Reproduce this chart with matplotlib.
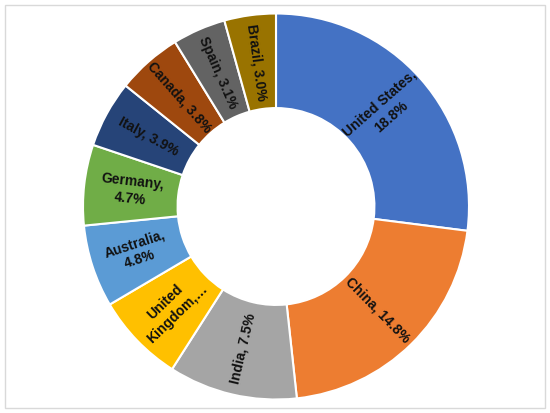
import numpy as np
import matplotlib.pyplot as plt
from matplotlib.patches import Rectangle

# datos (porcentajes del grafico)
paises = ['United States', 'China', 'India', 'United Kingdom', 'Australia',
          'Germany', 'Italy', 'Canada', 'Spain', 'Brazil']
valores = [18.8, 14.8, 7.5, 5.2, 4.8, 4.7, 3.9, 3.8, 3.1, 3.0]
etiquetas = ['United States,\n18.8%', 'China, 14.8%', 'India, 7.5%',
             'United\nKingdom,…', 'Australia,\n4.8%', 'Germany,\n4.7%',
             'Italy, 3.9%', 'Canada, 3.8%', 'Spain, 3.1%', 'Brazil, 3.0%']
colores = ['#4472C4', '#ED7D31', '#A5A5A5', '#FFC000', '#5B9BD5',
           '#70AD47', '#264478', '#9E480E', '#636363', '#997300']

plt.rcParams['font.family'] = ['Liberation Sans', 'DejaVu Sans']

fig = plt.figure(figsize=(5.5, 4.13), dpi=100)
# marco gris alrededor
fig.patches.append(Rectangle((5 / 550, 5 / 413), 540 / 550, 403 / 413,
                             transform=fig.transFigure, fill=False,
                             edgecolor='#d9d9d9', linewidth=1))

ax = fig.add_axes([83 / 550, (413 - 206.5 - 193) / 413, 386 / 550, 386 / 413])
cunas, _ = ax.pie(valores, colors=colores, startangle=90, counterclock=False,
                  wedgeprops=dict(width=0.49, edgecolor='white', linewidth=1.5))
ax.set_xlim(-1, 1)
ax.set_ylim(-1, 1)
ax.set_aspect('equal')
ax.axis('off')

# etiquetas rotadas en direccion radial
r_lab = 0.755
for cuna, txt in zip(cunas, etiquetas):
    medio = (cuna.theta1 + cuna.theta2) / 2
    x = r_lab * np.cos(np.radians(medio))
    y = r_lab * np.sin(np.radians(medio))
    rot = medio
    if 90 < (rot % 360) < 270:
        rot = rot + 180
    ax.text(x, y, txt, rotation=rot, rotation_mode='anchor', ha='center',
            va='center', fontsize=10, fontweight='bold', color='#111111',
            linespacing=1.25)

fig.savefig('out.png', dpi=100)
